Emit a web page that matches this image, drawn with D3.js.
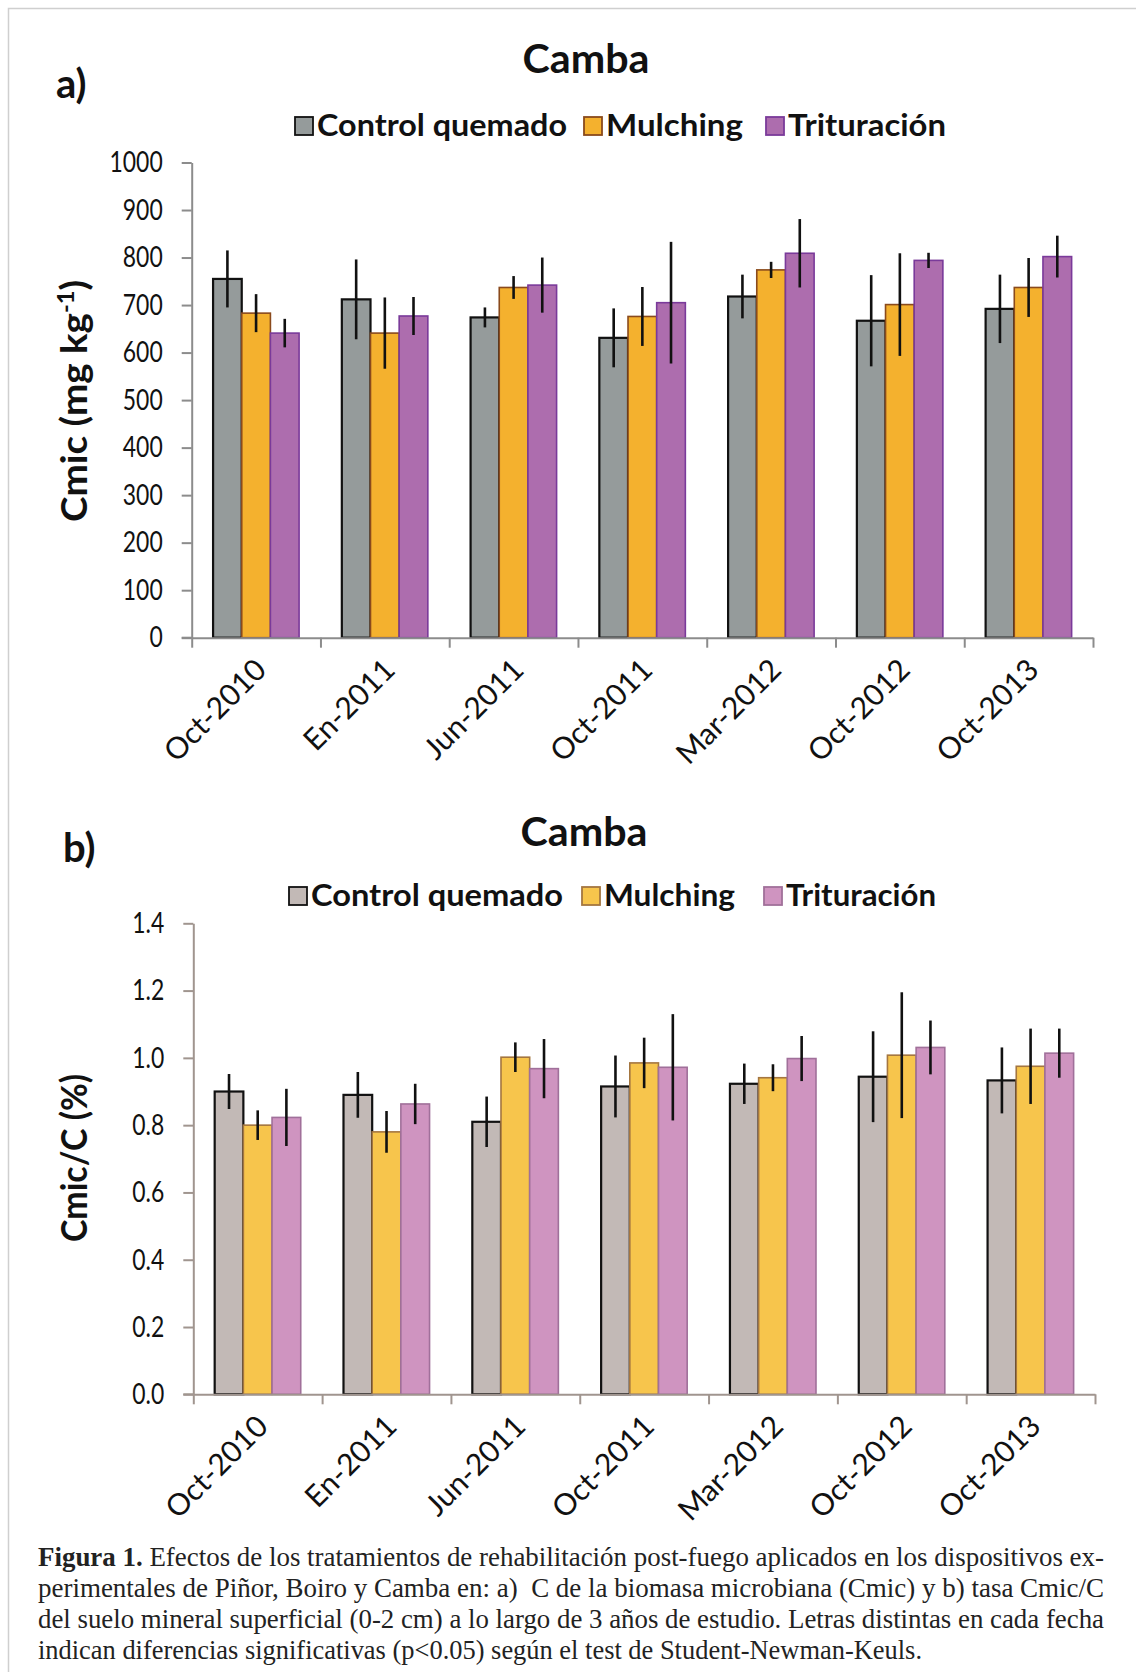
<!DOCTYPE html>
<html>
<head>
<meta charset="utf-8">
<script src="https://cdn.jsdelivr.net/npm/d3@7"></script>
<style>
  body { margin: 0; background: #fff; }
  svg { display: block; }
</style>
</head>
<body>
<svg id="fig" width="1136" height="1680"></svg>
<script>
// ---- Data ----
const categories = ["Oct-2010", "En-2011", "Jun-2011", "Oct-2011", "Mar-2012", "Oct-2012", "Oct-2013"];
const treatments = ["Control quemado", "Mulching", "Trituración"];

// a) Cmic (mg kg-1): means and error half-widths
const cmicControl        = [755, 712, 674, 631, 718, 667, 692];
const cmicMulching       = [683, 641, 737, 676, 774, 701, 737];
const cmicTrituracion    = [641, 677, 742, 705, 809, 794, 802];
const cmicControlErr     = [60, 84, 21, 62, 46, 96, 72];
const cmicMulchingErr    = [40, 75, 24, 62, 17, 108, 62];
const cmicTrituracionErr = [30, 40, 58, 128, 72, 16, 44];
const cmicTicks = [0, 100, 200, 300, 400, 500, 600, 700, 800, 900, 1000];

// b) Cmic/C (%): means and error half-widths
const ratioControl        = [0.900, 0.890, 0.810, 0.915, 0.923, 0.944, 0.933];
const ratioMulching       = [0.800, 0.780, 1.002, 0.985, 0.941, 1.008, 0.975];
const ratioTrituracion    = [0.823, 0.863, 0.968, 0.972, 0.998, 1.031, 1.014];
const ratioControlErr     = [0.052, 0.068, 0.075, 0.092, 0.060, 0.135, 0.098];
const ratioMulchingErr    = [0.044, 0.062, 0.044, 0.075, 0.040, 0.187, 0.112];
const ratioTrituracionErr = [0.085, 0.060, 0.088, 0.158, 0.067, 0.080, 0.073];
const ratioTicks = [0, 0.2, 0.4, 0.6, 0.8, 1.0, 1.2, 1.4];

const captionLines = [
  "Efectos de los tratamientos de rehabilitación post-fuego aplicados en los dispositivos ex-",
  "perimentales de Piñor, Boiro y Camba en: a)\u00A0 C de la biomasa microbiana (Cmic) y b) tasa Cmic/C",
  "del suelo mineral superficial (0-2 cm) a lo largo de 3 años de estudio. Letras distintas en cada fecha",
  "indican diferencias significativas (p<0.05) según el test de Student-Newman-Keuls."
];

const svg = d3.select("#fig");
const SANS = "Lato, 'Open Sans', sans-serif";

// light frame around the figure
svg.append("path")
  .attr("d", "M8.5,1672 V8.5 H1136")
  .attr("fill", "none").attr("stroke", "#cfcfcf").attr("stroke-width", 1.5);

function drawPanel(cfg) {
  const g = svg.append("g");
  const rows = treatments.map((t, k) => ({
    name: t,
    values: cfg.values[k],
    errs: cfg.errs[k],
    fill: cfg.fills[k],
    stroke: cfg.strokes[k],
    sw: cfg.strokeWidths[k]
  }));

  const x = d3.scaleBand().domain(categories)
    .range([cfg.x0, cfg.x1]).paddingInner(0.332).paddingOuter(0.166);
  const xs = d3.scaleBand().domain(treatments).range([0, x.bandwidth()]);
  const y = d3.scaleLinear().domain(cfg.domain).range([cfg.yBase, cfg.yTop]);

  // bars
  rows.forEach(r => {
    g.append("g").selectAll("rect").data(categories).join("rect")
      .attr("x", c => x(c) + xs(r.name))
      .attr("y", (c, i) => y(r.values[i]))
      .attr("width", xs.bandwidth())
      .attr("height", (c, i) => y(0) - y(r.values[i]))
      .attr("fill", r.fill)
      .attr("stroke", r.stroke)
      .attr("stroke-width", r.sw);
  });

  // error bars
  rows.forEach(r => {
    g.append("g").selectAll("line").data(categories).join("line")
      .attr("x1", c => x(c) + xs(r.name) + xs.bandwidth() / 2)
      .attr("x2", c => x(c) + xs(r.name) + xs.bandwidth() / 2)
      .attr("y1", (c, i) => y(r.values[i] - r.errs[i]))
      .attr("y2", (c, i) => y(r.values[i] + r.errs[i]))
      .attr("stroke", "#111").attr("stroke-width", 2.6);
  });

  // y axis
  const tickSize = 10, tickPad = 19, squeeze = 0.79;
  const yAxis = g.append("g")
    .attr("transform", `translate(${cfg.x0},0)`)
    .call(d3.axisLeft(y).tickValues(cfg.ticks).tickFormat(cfg.fmt)
      .tickSize(tickSize).tickSizeOuter(0).tickPadding(tickPad));
  yAxis.select(".domain").attr("stroke", cfg.axisColor).attr("stroke-width", 2);
  yAxis.selectAll(".tick line").attr("stroke", cfg.axisColor).attr("stroke-width", 2);
  yAxis.selectAll(".tick text")
    .attr("font-family", SANS).attr("font-size", cfg.tickFont).attr("fill", "#111")
    .attr("x", -(tickSize + tickPad) / squeeze)
    .attr("transform", `scale(${squeeze},1)`);

  // x axis: ticks at category boundaries
  const xb = d3.scaleLinear().domain([0, categories.length]).range([cfg.x0, cfg.x1]);
  const xAxis = g.append("g")
    .attr("transform", `translate(0,${cfg.yBase})`)
    .call(d3.axisBottom(xb).tickValues(d3.range(categories.length + 1))
      .tickFormat("").tickSize(10).tickSizeOuter(0));
  xAxis.select(".domain").attr("stroke", cfg.axisColor).attr("stroke-width", 2);
  xAxis.selectAll(".tick line").attr("stroke", cfg.axisColor).attr("stroke-width", 2);
  g.append("line")
    .attr("x1", cfg.x0 - 10).attr("x2", cfg.x0)
    .attr("y1", cfg.yBase).attr("y2", cfg.yBase)
    .attr("stroke", cfg.axisColor).attr("stroke-width", 2);

  // rotated category labels
  g.append("g").selectAll("text").data(categories).join("text")
    .attr("transform", c => `translate(${x(c) + x.bandwidth() / 2 + 12},${cfg.yBase + 34}) rotate(-45)`)
    .attr("text-anchor", "end")
    .attr("font-family", SANS).attr("font-size", cfg.catFont).attr("fill", "#111")
    .text(c => c);

  // y axis title
  const yt = g.append("text")
    .attr("transform", `translate(${cfg.yTitleX},${cfg.yTitleY}) rotate(-90)`)
    .attr("text-anchor", "middle")
    .attr("font-family", SANS).attr("font-weight", 700)
    .attr("font-size", cfg.yTitleFont).attr("fill", "#111")
    .attr("textLength", cfg.yTitleLen).attr("lengthAdjust", "spacingAndGlyphs");
  cfg.yTitle(yt);

  // panel letter and title
  g.append("text").attr("x", cfg.letterX).attr("y", cfg.letterY)
    .attr("font-family", SANS).attr("font-weight", 700).attr("font-size", 40)
    .attr("fill", "#111").text(cfg.letter);
  g.append("text").attr("x", cfg.titleX).attr("y", cfg.titleY)
    .attr("text-anchor", "middle")
    .attr("font-family", SANS).attr("font-weight", 700).attr("font-size", 40)
    .attr("fill", "#111")
    .attr("textLength", 127).attr("lengthAdjust", "spacingAndGlyphs")
    .text("Camba");

  // legend
  const lg = g.append("g");
  rows.forEach((r, k) => {
    const lx = cfg.legendX[k];
    lg.append("rect")
      .attr("x", lx).attr("y", cfg.legendY - 19)
      .attr("width", 18).attr("height", 18)
      .attr("fill", r.fill).attr("stroke", r.stroke).attr("stroke-width", 1.8);
    lg.append("text")
      .attr("x", lx + 22).attr("y", cfg.legendY)
      .attr("font-family", SANS).attr("font-weight", 700)
      .attr("font-size", 31).attr("fill", "#111")
      .attr("textLength", cfg.legendLen[k]).attr("lengthAdjust", "spacingAndGlyphs")
      .text(r.name);
  });
}

drawPanel({
  values: [cmicControl, cmicMulching, cmicTrituracion],
  errs: [cmicControlErr, cmicMulchingErr, cmicTrituracionErr],
  fills: ["#959b9b", "#f4b12e", "#ad6dae"],
  strokes: ["#111111", "#8a4a1c", "#7a3a9a"],
  strokeWidths: [2.2, 1.6, 1.6],
  x0: 191.7, x1: 1093, yBase: 637.7, yTop: 162.5,
  domain: [0, 1000], ticks: cmicTicks, fmt: d3.format("d"),
  axisColor: "#8c8c8c", tickFont: 29, catFont: 30,
  yTitleX: 87, yTitleY: 401, yTitleFont: 36, yTitleLen: 242,
  yTitle: t => {
    t.append("tspan").text("Cmic (mg kg");
    t.append("tspan").attr("dy", -13).attr("font-size", 22).text("-1");
    t.append("tspan").attr("dy", 13).text(")");
  },
  letter: "a)", letterX: 56, letterY: 98,
  titleX: 586, titleY: 73,
  legendX: [295, 584, 766], legendY: 136, legendLen: [250, 137, 158]
});

drawPanel({
  values: [ratioControl, ratioMulching, ratioTrituracion],
  errs: [ratioControlErr, ratioMulchingErr, ratioTrituracionErr],
  fills: ["#c2b9b6", "#f7c54c", "#cf94c0"],
  strokes: ["#111111", "#a47640", "#a0709a"],
  strokeWidths: [2.2, 1.6, 1.6],
  x0: 193.3, x1: 1095, yBase: 1394.3, yTop: 923.3,
  domain: [0, 1.4], ticks: ratioTicks, fmt: d3.format(".1f"),
  axisColor: "#a0958f", tickFont: 29, catFont: 30,
  yTitleX: 87, yTitleY: 1158, yTitleFont: 36, yTitleLen: 168,
  yTitle: t => { t.text("Cmic/C (%)"); },
  letter: "b)", letterX: 63, letterY: 862,
  titleX: 584, titleY: 846,
  legendX: [289, 582, 764], legendY: 906, legendLen: [252, 131, 150]
});

// caption
const cap = svg.append("g")
  .attr("font-family", "'Liberation Serif', 'Times New Roman', serif")
  .attr("font-size", 27).attr("fill", "#222");
const capY = [1566, 1597, 1628, 1659];
const capLen = [1066, 1066, 1066, 884];
captionLines.forEach((line, i) => {
  const t = cap.append("text")
    .attr("x", 38).attr("y", capY[i])
    .attr("textLength", capLen[i]).attr("lengthAdjust", "spacingAndGlyphs");
  if (i === 0) {
    t.append("tspan").attr("font-weight", 700).text("Figura 1.");
    t.append("tspan").text(" " + line);
  } else {
    t.text(line);
  }
});
</script>
</body>
</html>
